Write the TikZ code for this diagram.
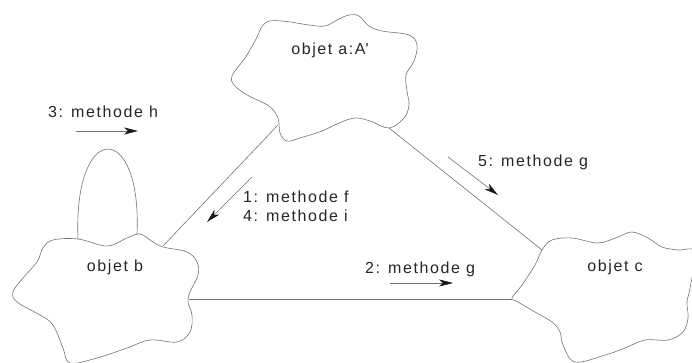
\documentclass[tikz,border=0pt]{standalone}
\usepackage{fontspec}
\setmainfont[LetterSpace=10]{Liberation Sans}
\usetikzlibrary{arrows.meta}

\begin{document}
\begin{tikzpicture}[x=1pt, y=-1pt,
    main/.style = {font=\fontsize{16}{20}\selectfont, text=black!85, inner sep=0pt},
    msg/.style = {main, anchor=base west},
    blob/.style = {draw=black!55, line width=0.6pt},
    link/.style = {draw=black!55, line width=0.6pt},
    call/.style = {draw=black!55, line width=0.6pt, -{Stealth[length=14pt, width=7pt, inset=4pt, color=black!90]}}]
    \useasboundingbox (0,0) rectangle (692,363);

    % objects
    \node[main] (a) at (330,50) {objet a:A\textquotesingle};
    \node[main] (b) at (115,267) {objet b};
    \node[main] (c) at (615,267) {objet c};

    \draw[blob] plot[smooth cycle, tension=0.6] coordinates {
        (265,23) (282,21) (309,25) (325,26) (337,20) (349,15) (359,16) (369,26)
        (382,31) (409,35) (417,45) (414,61) (406,75) (407,91) (409,105) (404,118)
        (389,128) (370,121) (355,118) (339,123) (322,131) (300,138) (287,141)
        (280,133) (278,118) (269,106) (249,96) (235,86) (232,76) (245,58) (255,41)};
    \draw[blob] plot[smooth cycle, tension=0.6] coordinates {
        (43,248) (53,240) (78,239) (107,246) (127,238) (140,234) (153,242)
        (163,247) (187,252) (197,262) (198,275) (190,292) (188,302) (192,315)
        (190,332) (177,342) (150,340) (127,348) (97,358) (70,363) (63,348)
        (53,325) (40,315) (17,302) (13,292) (23,278) (37,262)};
    \draw[blob] plot[smooth cycle, tension=0.6] coordinates {
        (512,298) (522,285) (535,265) (542,250) (552,240) (572,238) (598,243)
        (618,237) (632,232) (648,238) (662,247) (678,250) (695,252) (690,288)
        (687,302) (688,318) (683,332) (668,340) (645,340) (625,348) (605,355)
        (575,362) (563,345) (560,332) (552,322) (535,312) (518,302)};

    \coordinate (a-sw) at (278,125);
    \coordinate (a-se) at (389,128);
    \coordinate (b-ne) at (163,246);
    \coordinate (b-e) at (189,299);
    \coordinate (b-l) at (78,239);
    \coordinate (b-r) at (137,234);
    \coordinate (c-nw) at (542,250);
    \coordinate (c-w) at (512,299);

    % links
    \draw[link] (a-sw) -- (b-ne);
    \draw[link] (a-se) -- (c-nw);
    \draw[link] (b-e) -- (c-w);
    \draw[link] (b-l) .. controls (73,120) and (142,120) .. (b-r);

    % messages
    \node[msg] (m3) at (48,118) {3: methode h};
    \node[msg] (m1) at (243,202) {1: methode f};
    \node[msg] (m4) at (243,222) {4: methode i};
    \node[msg] (m5) at (478,167) {5: methode g};
    \node[msg] (m2) at (365,273) {2: methode g};

    \coordinate (h1) at (76,131);  \coordinate (h2) at (138,131);
    \coordinate (f1) at (252,177); \coordinate (f2) at (207,222);
    \coordinate (g1) at (448,157); \coordinate (g2) at (498,195);
    \coordinate (k1) at (390,283); \coordinate (k2) at (453,283);

    \draw[call] (h1) -- (h2);
    \draw[call] (f1) -- (f2);
    \draw[call] (g1) -- (g2);
    \draw[call] (k1) -- (k2);
\end{tikzpicture}
\end{document}
